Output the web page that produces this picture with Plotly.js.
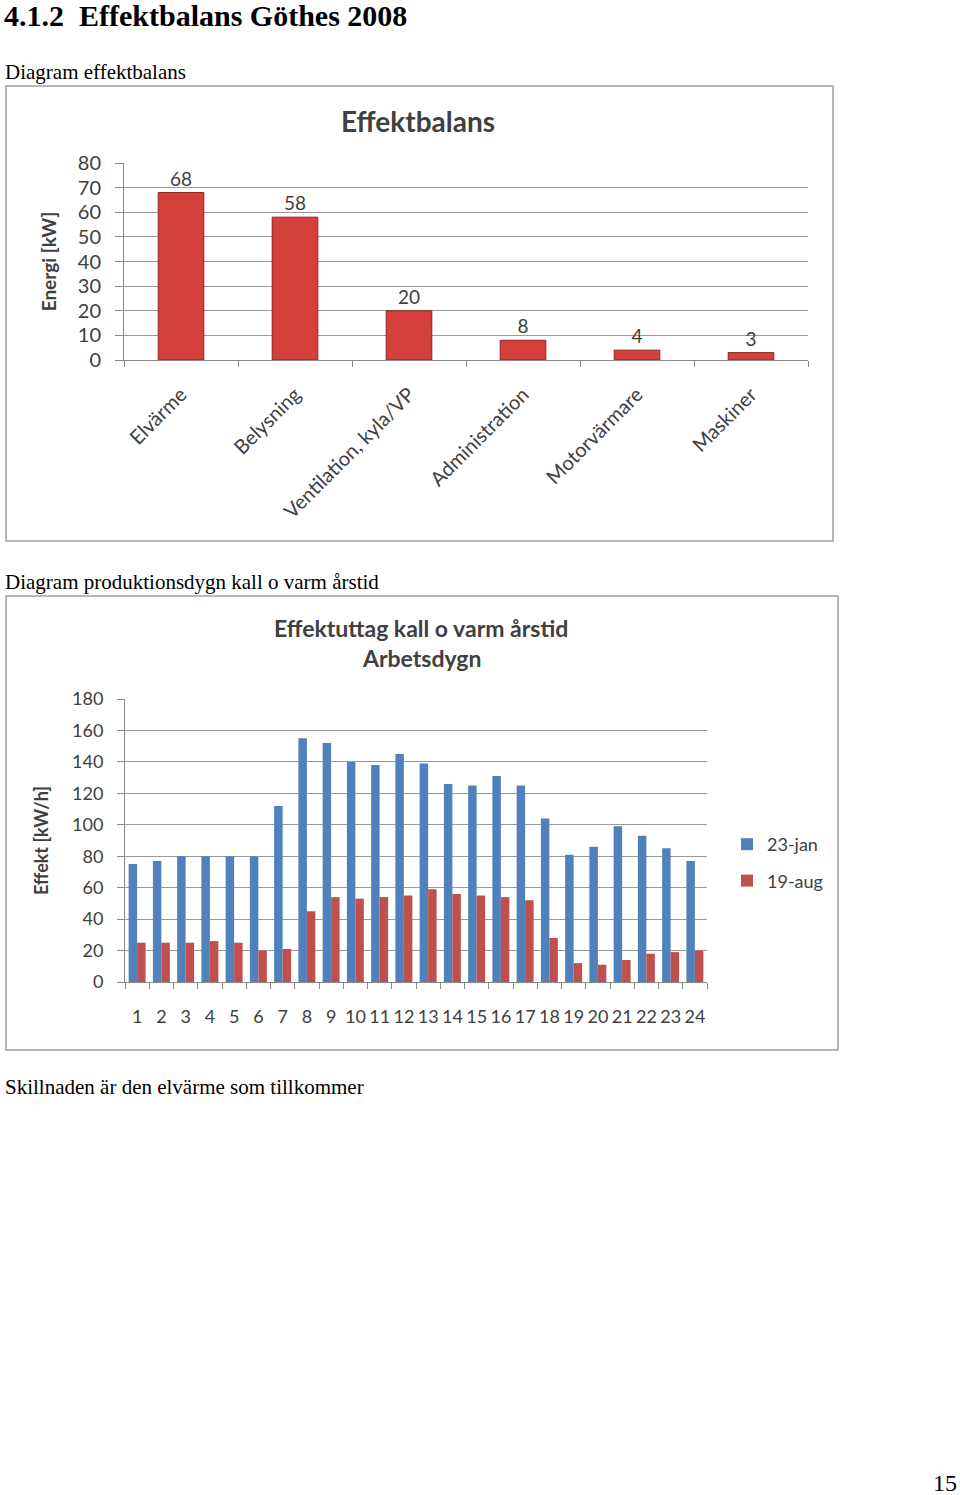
<!DOCTYPE html>
<html>
<head>
<meta charset="utf-8">
<script src="https://cdn.plot.ly/plotly-3.0.1.min.js"></script>
<style>
body { margin: 0; background: #fff; }
#page { width: 960px; height: 1495px; }
</style>
</head>
<body>
<div id="page"></div>
<script>
// page is 960x1495, plotly paper covers all of it (no margins)
var W = 960, H = 1495;
function px(x) { return x / W; }
function py(y) { return 1 - y / H; }

// diagram 1: effektbalans
var posts = ['Elvärme', 'Belysning', 'Ventilation, kyla/VP', 'Administration', 'Motorvärmare', 'Maskiner'];
var effekt = [68, 58, 20, 8, 4, 3];

// diagram 2: effektuttag per timme
var hours = ['1','2','3','4','5','6','7','8','9','10','11','12','13','14','15','16','17','18','19','20','21','22','23','24'];
var jan23 = [75, 77, 80, 80, 80, 80, 112, 155, 152, 140, 138, 145, 139, 126, 125, 131, 125, 104, 81, 86, 99, 93, 85, 77];
var aug19 = [25, 25, 25, 26, 25, 20, 21, 45, 54, 53, 54, 55, 59, 56, 55, 54, 52, 28, 12, 11, 14, 18, 19, 20];

var chartFont = 'Lato, "Open Sans", sans-serif';
var docFont = '"Liberation Serif", "Times New Roman", serif';
var ink = '#404040';

var trace1 = {
    x: posts,
    y: effekt,
    type: 'bar',
    xaxis: 'x',
    yaxis: 'y',
    width: 0.4,
    showlegend: false,
    marker: {color: '#D6403C', line: {color: '#8E2420', width: 1}},
    text: effekt.map(String),
    textposition: 'outside',
    textfont: {family: chartFont, size: 19, color: ink},
    cliponaxis: false,
    hoverinfo: 'none'
};

var trace2 = {
    x: hours,
    y: jan23,
    type: 'bar',
    name: '23-jan',
    legendgroup: 'a',
    xaxis: 'x2',
    yaxis: 'y2',
    marker: {color: '#4F81BD'}
};

var trace3 = {
    x: hours,
    y: aug19,
    type: 'bar',
    name: '19-aug',
    legendgroup: 'b',
    xaxis: 'x2',
    yaxis: 'y2',
    marker: {color: '#C0504D'}
};

var data = [trace1, trace2, trace3];

function note(text, x, y, size, family, anchor, vanchor) {
    return {
        text: text, xref: 'paper', yref: 'paper',
        x: px(x), y: py(y), xanchor: anchor || 'left', yanchor: vanchor || 'middle',
        showarrow: false, font: {family: family, size: size, color: '#000'}
    };
}

var layout = {
    width: W,
    height: H,
    margin: {l: 0, r: 0, t: 0, b: 0},
    paper_bgcolor: '#fff',
    plot_bgcolor: '#fff',
    barmode: 'group',
    bargap: 0.3,
    bargroupgap: 0,
    font: {family: chartFont, size: 18, color: ink},

    xaxis: {
        domain: [px(124), px(808)], anchor: 'y', type: 'category',
        tickangle: -45, tickson: 'boundaries', ticks: 'outside', ticklen: 6,
        tickcolor: '#888', showline: true, linecolor: '#888',
        tickfont: {family: chartFont, size: 20, color: ink},
        ticklabelstandoff: 14
    },
    yaxis: {
        domain: [py(360), py(163)], anchor: 'x',
        range: [0, 80], dtick: 10, ticks: 'outside', ticklen: 8, tickcolor: '#888',
        showline: true, linecolor: '#888', gridcolor: '#9a9a9a', zeroline: false,
        tickfont: {family: chartFont, size: 20, color: ink},
        ticklabelstandoff: 10,
        title: {text: '<b>Energi [kW]</b>', standoff: 16, font: {family: chartFont, size: 19, color: ink}}
    },

    xaxis2: {
        domain: [px(125), px(707)], anchor: 'y2', type: 'category',
        tickangle: 0, tickson: 'boundaries', ticks: 'outside', ticklen: 6,
        tickcolor: '#888', showline: true, linecolor: '#888',
        tickfont: {family: chartFont, size: 18, color: ink},
        ticklabelstandoff: 18
    },
    yaxis2: {
        domain: [py(982), py(699)], anchor: 'x2',
        range: [0, 180], dtick: 20, ticks: 'outside', ticklen: 7, tickcolor: '#888',
        showline: true, linecolor: '#888', gridcolor: '#9a9a9a', zeroline: false,
        tickfont: {family: chartFont, size: 18, color: ink},
        ticklabelstandoff: 10,
        title: {text: '<b>Effekt [kW/h]</b>', standoff: 18, font: {family: chartFont, size: 18, color: ink}}
    },

    legend: {
        x: px(727), y: py(826), xanchor: 'left', yanchor: 'top',
        font: {family: chartFont, size: 18, color: ink},
        traceorder: 'grouped', tracegroupgap: 10, bgcolor: 'rgba(0,0,0,0)'
    },

    shapes: [
        {type: 'rect', xref: 'paper', yref: 'paper', x0: px(6), x1: px(833), y0: py(541), y1: py(86),
         line: {color: '#a0a0a0', width: 1.5}},
        {type: 'rect', xref: 'paper', yref: 'paper', x0: px(6), x1: px(838), y0: py(1050), y1: py(596),
         line: {color: '#a0a0a0', width: 1.5}}
    ],

    annotations: [
        note('<b>4.1.2\u00a0\u00a0Effektbalans Göthes 2008</b>', 2, -3, 30, docFont, 'left', 'top'),
        note('Diagram effektbalans', 3, 72, 21, docFont),
        note('Diagram produktionsdygn kall o varm årstid', 3, 582, 21, docFont),
        note('Skillnaden är den elvärme som tillkommer', 3, 1087, 21, docFont),
        note('15', 959, 1483, 24, docFont, 'right'),
        {text: '<b>Effektbalans</b>', xref: 'paper', yref: 'paper', x: px(418), y: py(121),
         xanchor: 'center', yanchor: 'middle', showarrow: false,
         font: {family: chartFont, size: 28, color: ink}},
        {text: '<b>Effektuttag kall o varm årstid</b>', xref: 'paper', yref: 'paper', x: px(421), y: py(628),
         xanchor: 'center', yanchor: 'middle', showarrow: false,
         font: {family: chartFont, size: 23, color: ink}},
        {text: '<b>Arbetsdygn</b>', xref: 'paper', yref: 'paper', x: px(421), y: py(658),
         xanchor: 'center', yanchor: 'middle', showarrow: false,
         font: {family: chartFont, size: 23, color: ink}}
    ]
};

Plotly.newPlot('page', data, layout, {staticPlot: true, displayModeBar: false});
</script>
</body>
</html>
